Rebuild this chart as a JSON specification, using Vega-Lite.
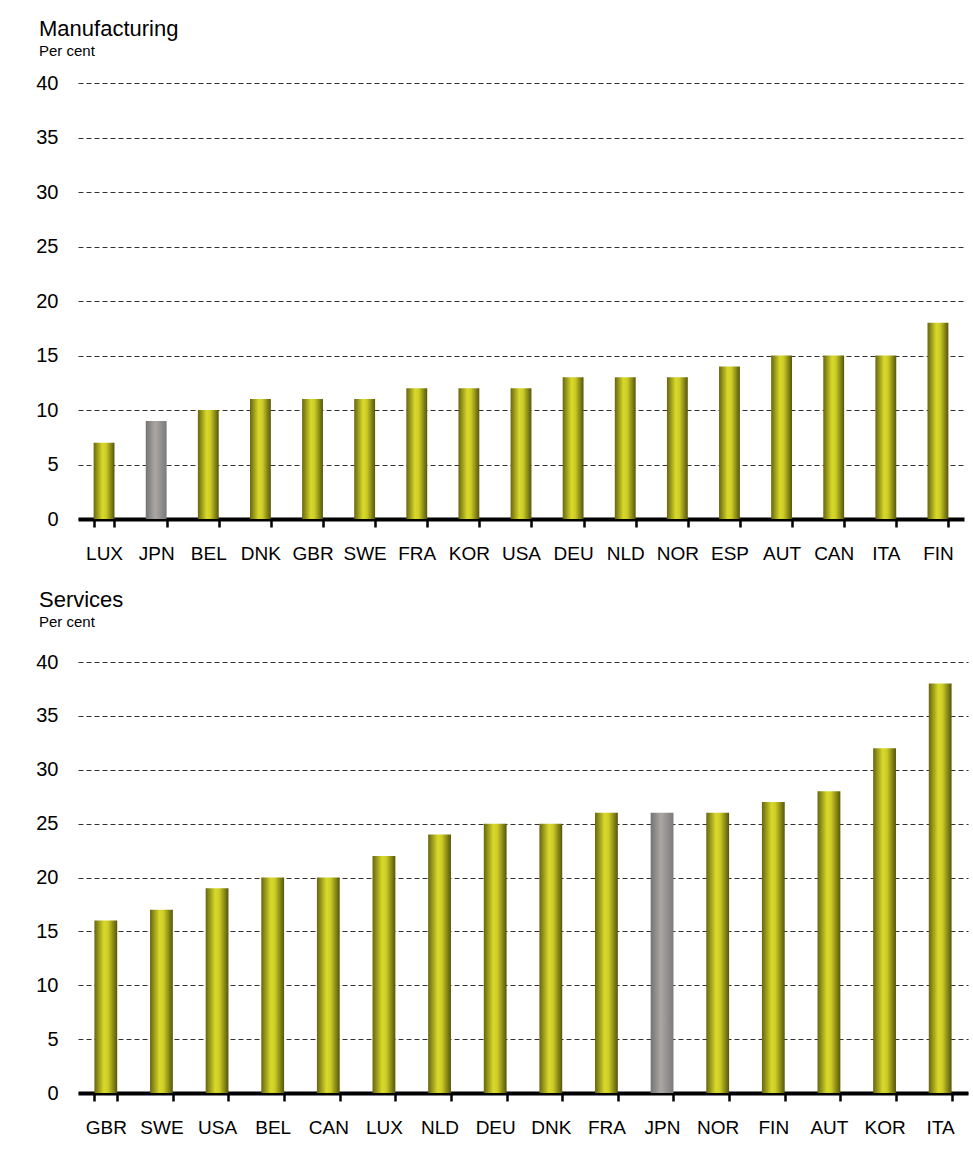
{
  "$schema": "https://vega.github.io/schema/vega-lite/v6.json",
  "background": "white",
  "padding": {"left": 35, "top": 18, "right": 3, "bottom": 5},
  "spacing": 26,
  "datasets": {
    "manufacturing": [
      {"country": "LUX", "value": 7},
      {"country": "JPN", "value": 9},
      {"country": "BEL", "value": 10},
      {"country": "DNK", "value": 11},
      {"country": "GBR", "value": 11},
      {"country": "SWE", "value": 11},
      {"country": "FRA", "value": 12},
      {"country": "KOR", "value": 12},
      {"country": "USA", "value": 12},
      {"country": "DEU", "value": 13},
      {"country": "NLD", "value": 13},
      {"country": "NOR", "value": 13},
      {"country": "ESP", "value": 14},
      {"country": "AUT", "value": 15},
      {"country": "CAN", "value": 15},
      {"country": "ITA", "value": 15},
      {"country": "FIN", "value": 18}
    ],
    "services": [
      {"country": "GBR", "value": 16},
      {"country": "SWE", "value": 17},
      {"country": "USA", "value": 19},
      {"country": "BEL", "value": 20},
      {"country": "CAN", "value": 20},
      {"country": "LUX", "value": 22},
      {"country": "NLD", "value": 24},
      {"country": "DEU", "value": 25},
      {"country": "DNK", "value": 25},
      {"country": "FRA", "value": 26},
      {"country": "JPN", "value": 26},
      {"country": "NOR", "value": 26},
      {"country": "FIN", "value": 27},
      {"country": "AUT", "value": 28},
      {"country": "KOR", "value": 32},
      {"country": "ITA", "value": 38}
    ]
  },
  "config": {
    "font": "Liberation Sans",
    "view": {"stroke": null},
    "title": {"anchor": "start", "frame": "group", "dx": -39, "fontSize": 22, "fontWeight": "normal", "color": "#000", "subtitleFontSize": 15, "subtitleColor": "#000", "subtitlePadding": 3, "offset": 13},
    "axisX": {"title": null, "labelAngle": 0, "tickBand": "extent", "grid": false, "domainWidth": 4, "domainColor": "#000", "tickColor": "#000", "tickWidth": 2.5, "tickSize": 8, "labelFontSize": 19, "labelPadding": 17, "labelColor": "#000"},
    "axisY": {"title": null, "domain": false, "ticks": false, "grid": true, "gridDash": [5, 3], "gridColor": "#333", "gridWidth": 1.2, "labelFontSize": 20, "labelPadding": 20, "labelColor": "#000", "values": [0, 5, 10, 15, 20, 25, 30, 35, 40]}
  },
  "vconcat": [
    {
      "title": {"text": "Manufacturing", "subtitle": "Per cent"},
      "data": {"name": "manufacturing"},
      "width": 886,
      "height": 436,
      "mark": {"type": "bar"},
      "encoding": {
        "x": {"field": "country", "type": "nominal", "sort": null, "scale": {"paddingInner": 0.6, "paddingOuter": 0.3}},
        "y": {"field": "value", "type": "quantitative", "scale": {"domain": [0, 40]}},
        "fill": {
          "condition": {"test": "datum.country === 'JPN'", "value": {"gradient": "linear", "x1": 0, "x2": 1, "y1": 0, "y2": 0, "stops": [{"offset": 0, "color": "#747474"}, {"offset": 0.45, "color": "#aba7a3"}, {"offset": 1, "color": "#7a7a7a"}]}},
          "value": {"gradient": "linear", "x1": 0, "x2": 1, "y1": 0, "y2": 0, "stops": [{"offset": 0, "color": "#66660f"}, {"offset": 0.42, "color": "#d9d92b"}, {"offset": 0.6, "color": "#cccc26"}, {"offset": 1, "color": "#55550c"}]}
        }
      }
    },
    {
      "title": {"text": "Services", "subtitle": "Per cent", "offset": 21},
      "data": {"name": "services"},
      "width": 890,
      "height": 431,
      "mark": {"type": "bar"},
      "encoding": {
        "x": {"field": "country", "type": "nominal", "sort": null, "scale": {"paddingInner": 0.59, "paddingOuter": 0.295}},
        "y": {"field": "value", "type": "quantitative", "scale": {"domain": [0, 40]}},
        "fill": {
          "condition": {"test": "datum.country === 'JPN'", "value": {"gradient": "linear", "x1": 0, "x2": 1, "y1": 0, "y2": 0, "stops": [{"offset": 0, "color": "#747474"}, {"offset": 0.45, "color": "#aba7a3"}, {"offset": 1, "color": "#7a7a7a"}]}},
          "value": {"gradient": "linear", "x1": 0, "x2": 1, "y1": 0, "y2": 0, "stops": [{"offset": 0, "color": "#66660f"}, {"offset": 0.42, "color": "#d9d92b"}, {"offset": 0.6, "color": "#cccc26"}, {"offset": 1, "color": "#55550c"}]}
        }
      }
    }
  ]
}
